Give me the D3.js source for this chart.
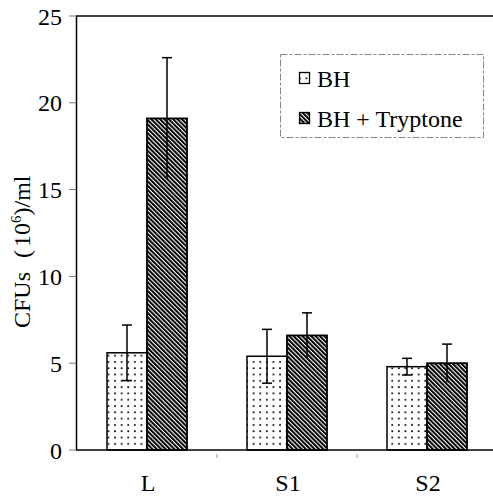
<!DOCTYPE html>
<meta charset="utf-8">
<script src="https://d3js.org/d3.v7.min.js"></script>
<style>
  body { margin: 0; background: #fff; }
  svg text { font-family: "Liberation Serif", "Times New Roman", Times, "DejaVu Serif", serif; fill: #000; }
</style>
<div id="chart"></div>
<script>

// data
const categories = ["L", "S1", "S2"];
const seriesNames = ["BH", "BH + Tryptone"];
const bhValues = [5.6, 5.4, 4.8];
const bhErrors = [1.6, 1.55, 0.48];
const tryValues = [19.1, 6.6, 5.0];
const tryErrors = [3.5, 1.3, 1.1];
const yTicks = [0, 5, 10, 15, 20, 25];

const width = 493, height = 497;
const serif = "'Liberation Serif', 'Times New Roman', Times, 'DejaVu Serif', serif";

const svg = d3.select("#chart")
    .append("svg")
    .attr("width", width)
    .attr("height", height)
    .attr("font-family", serif);

// patterns
const defs = svg.append("defs");
const dots = defs.append("pattern")
    .attr("id", "dots")
    .attr("patternUnits", "userSpaceOnUse")
    .attr("width", 6.6)
    .attr("height", 6.3);
dots.append("rect").attr("width", 6.6).attr("height", 6.3).attr("fill", "#fff");
dots.append("rect").attr("x", 2).attr("y", 2).attr("width", 1.7).attr("height", 1.7).attr("fill", "#000");

const hatch = defs.append("pattern")
    .attr("id", "hatch")
    .attr("patternUnits", "userSpaceOnUse")
    .attr("width", 3.1)
    .attr("height", 3.1)
    .attr("patternTransform", "rotate(-45)");
hatch.append("rect").attr("width", 3.1).attr("height", 3.1).attr("fill", "#fff");
hatch.append("rect").attr("width", 2.0).attr("height", 3.1).attr("fill", "#000");

// scales
const x = d3.scaleBand()
    .domain(categories)
    .range([77, 497])
    .padding(0);

const y = d3.scaleLinear()
    .domain([0, 25])
    .range([450, 16]);

const barW = 40;

// frame lines (left axis, top line)
svg.append("line")
    .attr("x1", 76.5).attr("x2", 76.5)
    .attr("y1", y(25)).attr("y2", y(0))
    .attr("stroke", "#000").attr("stroke-width", 1.5);
svg.append("line")
    .attr("x1", 76).attr("x2", 497)
    .attr("y1", y(25)).attr("y2", y(25))
    .attr("stroke", "#000").attr("stroke-width", 1.5);

// y ticks + labels
svg.selectAll(".ytick")
    .data(yTicks)
    .enter()
    .append("line")
    .attr("x1", 69).attr("x2", 76)
    .attr("y1", d => y(d)).attr("y2", d => y(d))
    .attr("stroke", "#777").attr("stroke-width", 1);

svg.selectAll(".ylab")
    .data(yTicks)
    .enter()
    .append("text")
    .attr("x", 62)
    .attr("y", d => y(d))
    .attr("dy", "0.36em")
    .attr("text-anchor", "end")
    .style("font-size", "24px")
    .text(d => d);

// y title
const title = svg.append("text")
    .attr("transform", "translate(30,328) rotate(-90)")
    .attr("text-anchor", "start")
    .style("font-size", "24px");
title.append("tspan").text("CFUs");
title.append("tspan").attr("dx", 14).text("(");
title.append("tspan").attr("dx", 3).text("10");
title.append("tspan").attr("dy", -9).style("font-size", "15px").text("6");
title.append("tspan").attr("dy", 9).text(")/ml");

// bars
const groups = svg.selectAll(".grp")
    .data(categories)
    .enter()
    .append("g");

groups.append("rect")
    .attr("x", d => x(d) + x.bandwidth() / 2 - barW)
    .attr("y", (d, i) => y(bhValues[i]))
    .attr("width", barW)
    .attr("height", (d, i) => y(0) - y(bhValues[i]))
    .attr("fill", "url(#dots)")
    .attr("stroke", "#000").attr("stroke-width", 1.5);

groups.append("rect")
    .attr("x", d => x(d) + x.bandwidth() / 2)
    .attr("y", (d, i) => y(tryValues[i]))
    .attr("width", barW)
    .attr("height", (d, i) => y(0) - y(tryValues[i]))
    .attr("fill", "url(#hatch)")
    .attr("stroke", "#000").attr("stroke-width", 1.8);

// error bars
function errBar(cx, v, e, bottomCap) {
    const g = svg.append("g").attr("stroke", "#000").attr("stroke-width", 1.5);
    g.append("line").attr("x1", cx).attr("x2", cx).attr("y1", y(v + e)).attr("y2", y(v - e));
    g.append("line").attr("x1", cx - 5).attr("x2", cx + 5).attr("y1", y(v + e)).attr("y2", y(v + e));
    if (bottomCap)
        g.append("line").attr("x1", cx - 5).attr("x2", cx + 5).attr("y1", y(v - e)).attr("y2", y(v - e));
}
categories.forEach((c, i) => {
    const mid = x(c) + x.bandwidth() / 2;
    errBar(mid - barW / 2, bhValues[i], bhErrors[i], true);
    errBar(mid + barW / 2, tryValues[i], tryErrors[i], false);
});

// baseline
svg.append("line")
    .attr("x1", 76).attr("x2", 497)
    .attr("y1", y(0)).attr("y2", y(0))
    .attr("stroke", "#000").attr("stroke-width", 1.5);

// small category boundary ticks
svg.selectAll(".xtick")
    .data(categories.slice(1))
    .enter()
    .append("line")
    .attr("x1", d => x(d)).attr("x2", d => x(d))
    .attr("y1", y(0) + 4).attr("y2", y(0) + 8)
    .attr("stroke", "#999").attr("stroke-width", 1);

// category labels
svg.selectAll(".xlab")
    .data(categories)
    .enter()
    .append("text")
    .attr("x", d => x(d) + x.bandwidth() / 2 + 1)
    .attr("y", 491)
    .attr("text-anchor", "middle")
    .style("font-size", "24px")
    .text(d => d);

// legend
const legend = svg.append("g");
legend.append("rect")
    .attr("x", 280.5).attr("y", 54.5)
    .attr("width", 203).attr("height", 83)
    .attr("fill", "#fff")
    .attr("stroke", "#888").attr("stroke-width", 1)
    .attr("stroke-dasharray", "7,2,3,2");

const fills = ["url(#dots)", "url(#hatch)"];
const legY = [87, 127];
seriesNames.forEach((s, i) => {
    legend.append("rect")
        .attr("x", 299.5).attr("y", legY[i] - 14.5)
        .attr("width", 10).attr("height", 11)
        .attr("fill", fills[i])
        .attr("stroke", "#000").attr("stroke-width", 1.3);
    legend.append("text")
        .attr("x", 317)
        .attr("y", legY[i])
        .style("font-size", "24px")
        .text(s);
});

</script>
